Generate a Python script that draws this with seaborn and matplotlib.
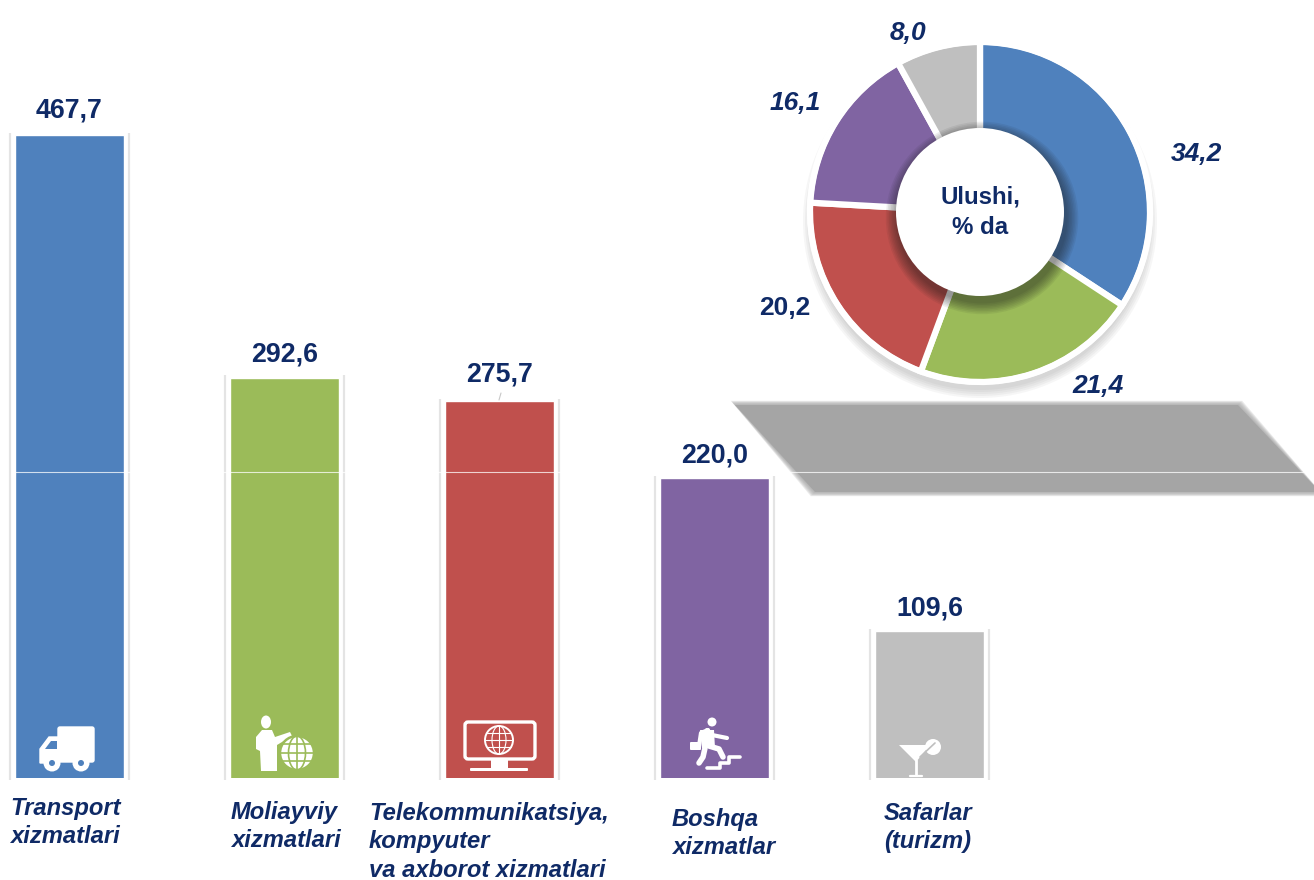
import numpy as np
import pandas as pd
import matplotlib
matplotlib.use('Agg')
import matplotlib.pyplot as plt
import seaborn as sns
from matplotlib.patches import Polygon, Circle, Ellipse, Rectangle, FancyBboxPatch

categories = ['Transport', 'Moliayviy', 'Telekom', 'Boshqa', 'Safarlar']
values = [467.7, 292.6, 275.7, 220.0, 109.6]
value_labels = ['467,7', '292,6', '275,7', '220,0', '109,6']
label_pads = [8, 7, 10, 7, 7]
colors = ['#4f81bd', '#9bbb59', '#c0504d', '#8064a2', '#bfbfbf']

shares = [34.2, 21.4, 20.2, 16.1, 8.0]
share_labels = ['34,2', '21,4', '20,2', '16,1', '8,0']
share_styles = ['italic', 'italic', 'normal', 'italic', 'italic']
share_label_pos = [(1196, 154), (1098, 386), (785, 308), (795, 103), (908, 33)]

cat_labels = ['Transport\nxizmatlari', 'Moliayviy\nxizmatlari',
              'Telekommunikatsiya,\nkompyuter\nva axborot xizmatlari',
              'Boshqa\nxizmatlar', 'Safarlar\n(turizm)']
cat_label_pos = [(10, 797), (231, 801), (369, 802), (672, 808), (884, 802)]

navy = '#0f2a66'
W, H = 1314, 880

sns.set_theme(style='white')
plt.rcParams['font.family'] = ['Liberation Sans', 'DejaVu Sans']

fig = plt.figure(figsize=(W / 100, H / 100), dpi=100, facecolor='white')

# pixel space axes, one behind for the shadows and one on top for icons and text
back = fig.add_axes([0, 0, 1, 1], zorder=0)
back.set_xlim(0, W)
back.set_ylim(H, 0)
back.axis('off')

top = fig.add_axes([0, 0, 1, 1], zorder=5)
top.set_xlim(0, W)
top.set_ylim(H, 0)
top.axis('off')
top.patch.set_alpha(0)

# soft grey plate under the donut
plate = np.array([(735, 405), (1238, 405), (1320, 492), (815, 492)], dtype=float)
for grow in range(6, -1, -1):
    shrink = plate + np.array([[-grow, -grow], [grow, -grow], [grow, grow], [-grow, grow]]) * 0.7
    back.add_patch(Polygon(shrink, closed=True, fc='#a5a5a5', ec='none', alpha=0.22 if grow else 1))

# donut shadow
for r in range(177, 167, -2):
    back.add_patch(Circle((980, 221), r, fc='#555555', ec='none', alpha=0.05))

# bars
base_y = 778
px_per_unit = 1.385
y_min = 3.47
ax = fig.add_axes([0, (H - base_y) / H, 1, base_y / H], zorder=1)
ax.patch.set_alpha(0)
df = pd.DataFrame({'category': categories, 'value': values})
sns.barplot(data=df, x='category', y='value', hue='category', palette=colors,
            saturation=1, width=0.505, legend=False, ax=ax)
ax.set_xlim(-69.5 / 215, (W - 69.5) / 215)
ax.set_ylim(y_min, y_min + base_y / px_per_unit)
ax.axis('off')

for i, v in enumerate(values):
    for side in (-0.277, 0.277):
        ax.vlines(i + side, y_min - 1.5, v + 1.5, color='#e4e4e4', lw=1.6, clip_on=False)

for cont, lab, pad in zip(ax.containers, value_labels, label_pads):
    ax.bar_label(cont, labels=[lab], padding=pad, fontsize=19.3, fontweight='bold', color=navy)

# donut
cx, cy, rad = 980, 212, 170
span = rad * 1.1
pie_ax = fig.add_axes([(cx - span) / W, (H - cy - span) / H, 2 * span / W, 2 * span / H], zorder=2)
pie_ax.patch.set_alpha(0)
pie_ax.pie(shares, colors=colors, startangle=90, counterclock=False, radius=1,
           wedgeprops=dict(edgecolor='white', linewidth=4.5))
pie_ax.set_xlim(-1.1, 1.1)
pie_ax.set_ylim(-1.1, 1.1)
pie_ax.add_patch(Circle((0, 0), 1.0, fc='none', ec='white', lw=4))

hub = 84 / rad
for k in range(8, 0, -1):
    pie_ax.add_patch(Circle((0.012, -0.035), hub + k * 0.009, fc='#1a1a1a', ec='none', alpha=0.07))
pie_ax.add_patch(Circle((0, 0), hub, fc='white', ec='none'))
pie_ax.text(0, 0, 'Ulushi,\n% da', ha='center', va='center', fontsize=17.3, fontweight='bold',
            color=navy, linespacing=1.4)

for lab, st, (x, y) in zip(share_labels, share_styles, share_label_pos):
    top.text(x, y, lab, ha='center', va='center', fontsize=19, fontweight='bold',
             style=st, color=navy)

for lab, (x, y) in zip(cat_labels, cat_label_pos):
    top.text(x, y, lab, ha='left', va='top', fontsize=17.1, fontweight='bold',
             style='italic', color=navy, linespacing=1.3)

# thin line that runs through the picture
top.hlines(472, 15, W, color='white', lw=0.8, alpha=0.75)
top.plot([499, 501], [400, 393], color='#c8c8c8', lw=0.8)


def globe(x, y, r, color, bg, lw=1.2):
    top.add_patch(Circle((x, y), r, fc=bg, ec=color, lw=lw + 0.6))
    top.add_patch(Ellipse((x, y), r, 2 * r, fc='none', ec=color, lw=lw))
    top.plot([x, x], [y - r, y + r], color=color, lw=lw)
    for dy, half in ((0, 1), (-0.5, 0.866), (0.5, 0.866)):
        top.plot([x - r * half, x + r * half], [y + dy * r, y + dy * r], color=color, lw=lw)


# truck
top.add_patch(FancyBboxPatch((58, 727), 36, 35, boxstyle='round,pad=0,rounding_size=2', fc='white', ec='white', lw=1))
top.add_patch(Polygon([(58, 737), (49, 737), (40, 749), (40, 763), (58, 763)], fc='white', ec='white', lw=1))
top.add_patch(Polygon([(57, 741), (51, 741), (45, 749), (57, 749)], fc=colors[0], ec='none'))
for wx in (52, 81):
    top.add_patch(Circle((wx, 763), 8.5, fc='white', ec='none'))
    top.add_patch(Circle((wx, 763), 3, fc=colors[0], ec='none'))

# man with globe
top.add_patch(Ellipse((266, 722), 10, 13, fc='white', ec='none'))
top.add_patch(Polygon([(256, 737), (262, 730), (272, 730), (275, 737), (290, 732), (292, 736), (277, 745),
                       (277, 771), (261, 771), (260, 751), (256, 749)], fc='white', ec='none'))
globe(297, 753, 17, colors[1], 'white')

# monitor
top.add_patch(FancyBboxPatch((465, 722), 70, 37, boxstyle='round,pad=0,rounding_size=3',
                             fc='none', ec='white', lw=2.4))
globe(499, 740, 14, 'white', colors[2], lw=0.8)
top.add_patch(Rectangle((491, 760), 17, 8, fc='white', ec='none'))
top.add_patch(FancyBboxPatch((470, 768), 58, 3, boxstyle='round,pad=0,rounding_size=1', fc='white', ec='none'))

# man on stairs
top.add_patch(Circle((712, 722), 4.5, fc='white', ec='none'))
top.plot([707, 712, 727], [730, 735, 738], color='white', lw=3, solid_capstyle='round')
top.plot([699, 701, 708], [746, 733, 730], color='white', lw=3, solid_capstyle='round')
top.add_patch(Polygon([(700, 730), (714, 730), (715, 748), (702, 748)], fc='white', ec='none'))
top.plot([705, 703, 699], [748, 757, 763], color='white', lw=4, solid_capstyle='round')
top.plot([709, 719, 723], [746, 749, 757], color='white', lw=4, solid_capstyle='round')
top.add_patch(FancyBboxPatch((690, 742), 11, 8, boxstyle='round,pad=0,rounding_size=1', fc='white', ec='none'))
top.plot([707, 720, 720, 729, 729, 740], [768, 768, 763, 763, 757, 757], color='white', lw=2.6)

# cocktail
top.add_patch(Circle((933, 747), 8, fc='white', ec='none'))
top.plot([920, 935], [757, 743], color=colors[4], lw=1.2)
top.add_patch(Polygon([(899, 745), (930, 745), (916, 762)], fc='white', ec='none'))
top.plot([916, 916], [760, 775], color='white', lw=2)
top.plot([910, 922], [776, 776], color='white', lw=1.6)

fig.savefig('out.png', dpi=100, facecolor='white')
